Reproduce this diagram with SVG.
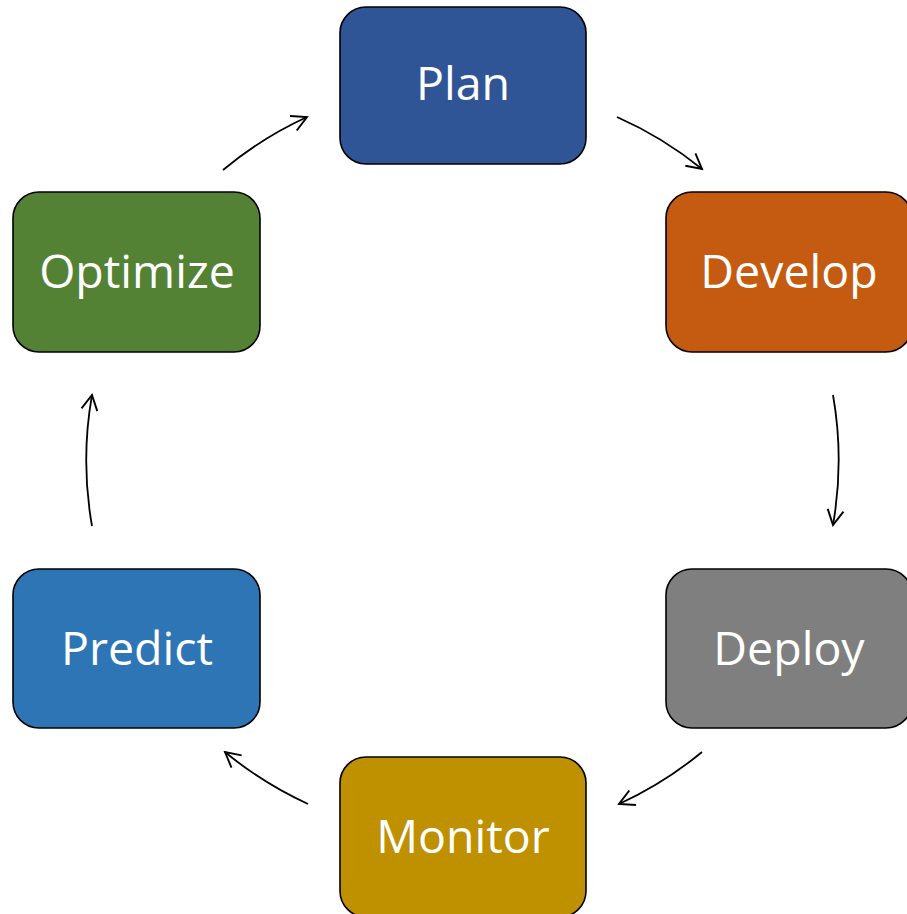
<svg xmlns="http://www.w3.org/2000/svg" width="907" height="914" viewBox="0 0 907 914">
<defs>
<style>
.box{stroke:#000;stroke-width:1.6}
.lbl{font-family:"Open Sans","Noto Sans",sans-serif;font-size:46.5px;fill:#fff;text-anchor:middle}
.edge{fill:none;stroke:#000;stroke-width:1.8;marker-end:url(#arr)}
</style>
<marker id="arr" markerUnits="userSpaceOnUse" viewBox="0 0 20 20" refX="18" refY="10" markerWidth="20" markerHeight="20" orient="auto">
<path d="M3,2 L18,10 L3,18" fill="none" stroke="#000" stroke-width="1.9"/>
</marker>
</defs>
<rect width="907" height="914" fill="#fff"/>
<g id="connectors">
<path class="edge" d="M617,117 A376,376 0 0 1 702,169"/>
<path class="edge" d="M833,395 A376,376 0 0 1 833,525"/>
<path class="edge" d="M702,752 A376,376 0 0 1 619,804"/>
<path class="edge" d="M308,804 A376,376 0 0 1 225,752"/>
<path class="edge" d="M92,526 A376,376 0 0 1 92,395"/>
<path class="edge" d="M223,170 A376,376 0 0 1 307,117"/>
</g>
<g id="plan"><rect class="box" x="340" y="7" width="246" height="157" rx="26" fill="#2F5597"/><text class="lbl" x="463" y="100">Plan</text></g>
<g id="develop"><rect class="box" x="666" y="192" width="246" height="160" rx="26" fill="#C55A11"/><text class="lbl" x="789" y="288">Develop</text></g>
<g id="deploy"><rect class="box" x="666" y="569" width="246" height="159" rx="26" fill="#7F7F7F"/><text class="lbl" x="789" y="665">Deploy</text></g>
<g id="monitor"><rect class="box" x="340" y="757" width="246" height="160" rx="26" fill="#BF9000"/><text class="lbl" x="463" y="853">Monitor</text></g>
<g id="predict"><rect class="box" x="13" y="569" width="247" height="159" rx="26" fill="#2E75B6"/><text class="lbl" x="137" y="665">Predict</text></g>
<g id="optimize"><rect class="box" x="13" y="192" width="247" height="160" rx="26" fill="#548235"/><text class="lbl" x="137" y="288">Optimize</text></g>
</svg>
